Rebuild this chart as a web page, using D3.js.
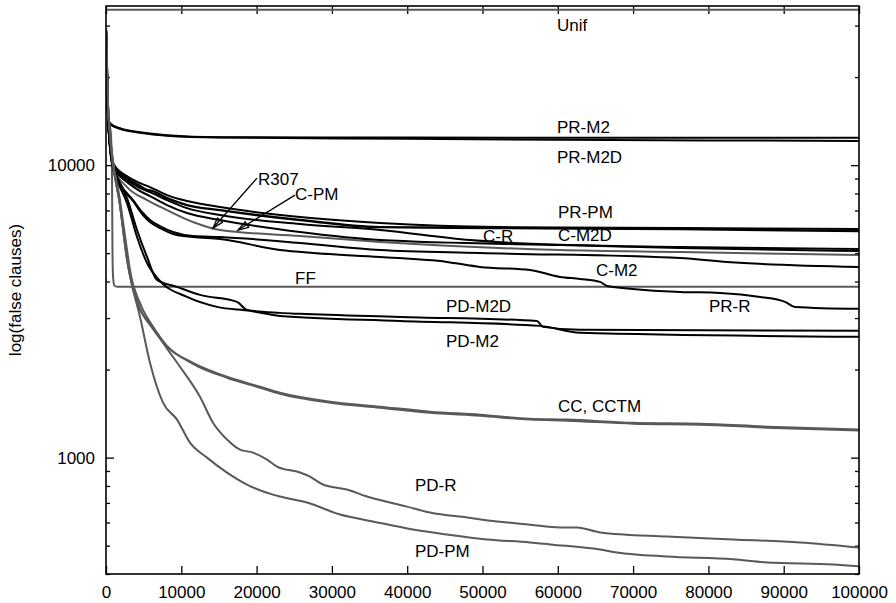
<!DOCTYPE html>
<html>
<head>
<meta charset="utf-8">
<script src="https://cdn.jsdelivr.net/npm/d3@7"></script>
<style>
  body { margin: 0; background: #fff; }
  text { font-family: "Liberation Sans", Arial, Helvetica, sans-serif; }
</style>
</head>
<body>
<svg id="chart"></svg>
<script>
// false clauses against flips (x = flips, y = false clauses)
const unif = [[0, 34000], [100000, 34000]];
const prM2 = [[0, 29000], [270, 14800], [530, 13910], [1860, 13370], [4520, 12960], [8100, 12660], [15140, 12460], [40000, 12420], [70000, 12400], [100000, 12400]];
const prM2D = [[0, 29000], [270, 14800], [530, 13800], [1860, 13300], [4520, 12900], [8100, 12600], [15140, 12420], [40000, 12300], [60000, 12220], [80000, 12150], [100000, 12100]];
const r307 = [[0, 29000], [270, 14800], [530, 11700], [930, 10160], [2790, 9170], [4520, 8680], [5840, 8410], [8100, 7900], [10760, 7540], [15140, 7190], [25760, 6646], [36390, 6340], [52320, 6140], [76230, 6095], [100000, 6046]];
const prPM = [[0, 29000], [270, 14800], [530, 11700], [930, 10080], [2790, 9030], [4520, 8480], [5450, 8220], [5840, 8200], [8100, 7716], [10760, 7304], [15140, 7020], [25760, 6490], [36390, 6140], [52320, 6095], [76230, 6046], [100000, 5950]];
const cR = [[0, 29000], [270, 14800], [530, 11700], [930, 10000], [2790, 8890], [4520, 8350], [5840, 8090], [8100, 7595], [10760, 7130], [15140, 6752], [25760, 6290], [36390, 6000], [48340, 5546], [54050, 5420], [76230, 5249], [100000, 5170]];
const cM2D = [[0, 29000], [270, 14800], [530, 11700], [930, 9920], [2790, 8750], [4520, 8150], [5840, 7840], [8100, 7304], [10760, 6860], [15140, 6490], [25760, 5906], [36390, 5546], [60290, 5330], [76230, 5210], [100000, 5085]];
const cPM = [[0, 29000], [270, 14800], [530, 11700], [930, 9844], [2790, 8410], [5450, 7595], [8100, 7020], [11550, 6390], [15140, 6000], [25760, 5724], [36390, 5460], [60290, 5126], [76230, 5045], [100000, 4930]];
const cM2 = [[0, 29000], [270, 14800], [530, 11700], [930, 10000], [1860, 8680], [3590, 7595], [4910, 6860], [5840, 6490], [7170, 6190], [8900, 5906], [11550, 5724], [15140, 5680], [25760, 5420], [36390, 5126], [49670, 5006], [76230, 4815], [82470, 4667], [100000, 4487]];
const prR = [[0, 29000], [270, 14800], [530, 11700], [930, 10000], [1860, 8613], [3590, 7540], [4910, 6752], [5840, 6390], [7170, 6095], [8900, 5814], [11550, 5680], [15140, 5590], [23110, 5126], [27490, 5006], [36390, 4853], [45280, 4667], [49670, 4487], [56310, 4380], [60290, 4148], [62950, 4083], [65600, 3990], [66530, 3864], [76230, 3686], [81540, 3657], [86850, 3543], [90170, 3407], [91500, 3276], [100000, 3225]];
const ff = [[0, 29000], [270, 14800], [650, 12800], [800, 9000], [850, 5500], [930, 4200], [1100, 3880], [1500, 3835], [100000, 3835]];
const pdM2D = [[0, 29000], [270, 14800], [530, 11700], [930, 10000], [1460, 9100], [2790, 7716], [4120, 6000], [5450, 4853], [6770, 4050], [9430, 3835], [12480, 3600], [17400, 3407], [18720, 3200], [23110, 3125], [25760, 3101], [39040, 3027], [57240, 2934], [58030, 2799], [62950, 2735], [100000, 2714]];
const pdM2 = [[0, 29000], [270, 14800], [530, 11430], [930, 9767], [1460, 8890], [2790, 7419], [4120, 5680], [5450, 4627], [7170, 4017], [10760, 3543], [14740, 3276], [19120, 3175], [23110, 3051], [39040, 2934], [57640, 2821], [62950, 2671], [100000, 2588]];
const cc = [[0, 29000], [270, 16000], [530, 12860], [1860, 7595], [2790, 5126], [3190, 4380], [3590, 3895], [4120, 3460], [4910, 3076], [5840, 2843], [8100, 2392], [11550, 2110], [16070, 1890], [20450, 1747], [23110, 1666], [29750, 1553], [36390, 1493], [43030, 1436], [49670, 1402], [56310, 1358], [61220, 1349], [69990, 1316], [78880, 1306], [87780, 1276], [100000, 1247]];
const cctm = [[0, 29000], [270, 16000], [530, 12860], [1860, 7304], [2790, 4815], [3590, 3745], [4520, 3200], [5840, 2889], [8100, 2411], [11550, 2093], [16070, 1875], [20450, 1734], [23110, 1654], [29750, 1541], [36390, 1481], [43030, 1424], [49670, 1390], [56310, 1349], [61220, 1337], [69990, 1306], [78880, 1296], [87780, 1266], [100000, 1237]];
const pdR = [[0, 29000], [270, 16000], [530, 12660], [1860, 7304], [3190, 4213], [3590, 3895], [4910, 3200], [6240, 2799], [7570, 2469], [9830, 2044], [12480, 1615], [14210, 1316], [16070, 1153], [17800, 1065], [19520, 1040], [21380, 984], [22710, 932], [25760, 889], [27090, 861], [28820, 809], [32000, 778], [34660, 736], [39970, 680], [43030, 649], [47940, 624], [51920, 605], [56310, 590], [60290, 577], [62550, 577], [65600, 555], [74500, 537], [83270, 525], [92160, 513], [100000, 493]];
const pdPM = [[0, 29000], [270, 16000], [530, 12660], [1860, 7304], [2790, 4740], [3450, 3895], [4520, 3027], [5840, 2110], [7570, 1541], [9430, 1349], [11150, 1125], [13410, 1000], [16070, 889], [18720, 809], [22180, 747], [23110, 736], [26690, 702], [31080, 639], [35460, 605], [40770, 568], [45280, 546], [50600, 525], [56310, 513], [58960, 505], [65600, 485], [67860, 474], [74500, 459], [83270, 449], [87780, 438], [96550, 431], [100000, 425]];

const series = [
  { name: 'Unif', data: unif, grey: true },
  { name: 'PR-M2', data: prM2 },
  { name: 'PR-M2D', data: prM2D },
  { name: 'FF', data: ff, grey: true },
  { name: 'C-PM', data: cPM, grey: true },
  { name: 'R307', data: r307 },
  { name: 'PR-PM', data: prPM },
  { name: 'C-R', data: cR },
  { name: 'C-M2D', data: cM2D },
  { name: 'C-M2', data: cM2 },
  { name: 'PR-R', data: prR },
  { name: 'PD-M2D', data: pdM2D },
  { name: 'PD-M2', data: pdM2 },
  { name: 'CC', data: cc, grey: true },
  { name: 'CCTM', data: cctm, grey: true },
  { name: 'PD-R', data: pdR, grey: true },
  { name: 'PD-PM', data: pdPM, grey: true }
];

// curve labels: [text, flips, false clauses] at the text's start / baseline
const labels = [
  ['Unif', 59890, 28660], ['PR-M2', 59890, 12860], ['PR-M2D', 59890, 10160],
  ['R307', 20190, 8545], ['C-PM', 25100, 7595], ['PR-PM', 60030, 6594],
  ['C-R', 50070, 5460], ['C-M2D', 60030, 5500], ['C-M2', 65070, 4180],
  ['PR-R', 80080, 3150], ['FF', 25100, 3926], ['PD-M2D', 45150, 3150],
  ['PD-M2', 45150, 2392], ['CC, CCTM', 60030, 1436], ['PD-R', 41030, 766],
  ['PD-PM', 41030, 459]
];
// pointer arrows: [from x, from y, to x, to y]
const arrows = [
  [20050, 9030, 14210, 6095],
  [25100, 7900, 17530, 6000]
];

const xTicks = [0, 10000, 20000, 30000, 40000, 50000, 60000, 70000, 80000, 90000, 100000];
const yMajor = [1000, 10000];
const yMinor = [400, 500, 600, 700, 800, 900, 2000, 3000, 4000, 5000, 6000, 7000, 8000, 9000, 20000, 30000];

const w = 896;
const h = 603;
const m = { top: 6, right: 37, bottom: 29, left: 106 };

const svg = d3.select('#chart')
  .attr('width', w)
  .attr('height', h);

const x = d3.scaleLinear().domain([0, 100000]).range([m.left, w - m.right]);
const y = d3.scaleLog().domain([400, 35000]).range([h - m.bottom, m.top]);

svg.append('defs').append('clipPath').attr('id', 'clip')
  .append('rect')
  .attr('x', m.left).attr('y', m.top)
  .attr('width', w - m.left - m.right)
  .attr('height', h - m.top - m.bottom);

// axes, ticks pointing inward on all four sides
const fmt = d3.format('d');
const addAxis = (axis, tx, ty, labelsOn) => {
  const g = svg.append('g')
    .attr('transform', `translate(${tx},${ty})`)
    .call(axis);
  g.select('.domain').remove();
  g.selectAll('line').attr('stroke', '#000').attr('stroke-width', 1.3);
  g.selectAll('text').attr('font-size', 17).attr('fill', '#000');
  if (!labelsOn) g.selectAll('text').remove();
  return g;
};

addAxis(d3.axisBottom(x).tickValues(xTicks).tickSize(-8).tickPadding(12).tickFormat(fmt), 0, h - m.bottom, true);
addAxis(d3.axisTop(x).tickValues(xTicks).tickSize(-8), 0, m.top, false);
addAxis(d3.axisLeft(y).tickValues(yMajor).tickSize(-8).tickPadding(11).tickFormat(fmt), m.left, 0, true);
addAxis(d3.axisLeft(y).tickValues(yMinor).tickSize(-4), m.left, 0, false);
addAxis(d3.axisRight(y).tickValues(yMajor).tickSize(-8), w - m.right, 0, false);
addAxis(d3.axisRight(y).tickValues(yMinor).tickSize(-4), w - m.right, 0, false);

svg.append('text')
  .attr('transform', `translate(21,${(m.top + h - m.bottom) / 2}) rotate(-90)`)
  .attr('text-anchor', 'middle')
  .attr('font-size', 17)
  .text('log(false clauses)');

// curves
const line = d3.line()
  .curve(d3.curveMonotoneX)
  .x(d => x(d[0]))
  .y(d => y(d[1]));

svg.append('g')
  .attr('clip-path', 'url(#clip)')
  .selectAll('path')
  .data(series)
  .enter()
  .append('path')
  .attr('d', d => line(d.data))
  .attr('fill', 'none')
  .attr('stroke', d => d.grey ? '#595959' : '#000')
  .attr('stroke-width', d => d.name === 'PR-PM' ? 2.4 : 2)
  .attr('stroke-linejoin', 'round');

// labels
svg.append('g')
  .selectAll('text')
  .data(labels)
  .enter()
  .append('text')
  .attr('x', d => x(d[1]))
  .attr('y', d => y(d[2]))
  .attr('font-size', 17)
  .text(d => d[0]);

// arrows to R307 and C-PM
const arrowG = svg.append('g').attr('stroke', '#000').attr('stroke-width', 1.3).attr('fill', 'none');
arrows.forEach(a => {
  const x1 = x(a[0]), y1 = y(a[1]), x2 = x(a[2]), y2 = y(a[3]);
  const ang = Math.atan2(y2 - y1, x2 - x1);
  const len = 11, spread = 0.3;
  arrowG.append('line').attr('x1', x1).attr('y1', y1).attr('x2', x2).attr('y2', y2);
  arrowG.append('path')
    .attr('d', `M${x2 - len * Math.cos(ang - spread)},${y2 - len * Math.sin(ang - spread)}L${x2},${y2}L${x2 - len * Math.cos(ang + spread)},${y2 - len * Math.sin(ang + spread)}Z`);
});

// frame
svg.append('rect')
  .attr('x', m.left).attr('y', m.top)
  .attr('width', w - m.left - m.right)
  .attr('height', h - m.top - m.bottom)
  .attr('fill', 'none')
  .attr('stroke', '#000')
  .attr('stroke-width', 1.6);
</script>
</body>
</html>
